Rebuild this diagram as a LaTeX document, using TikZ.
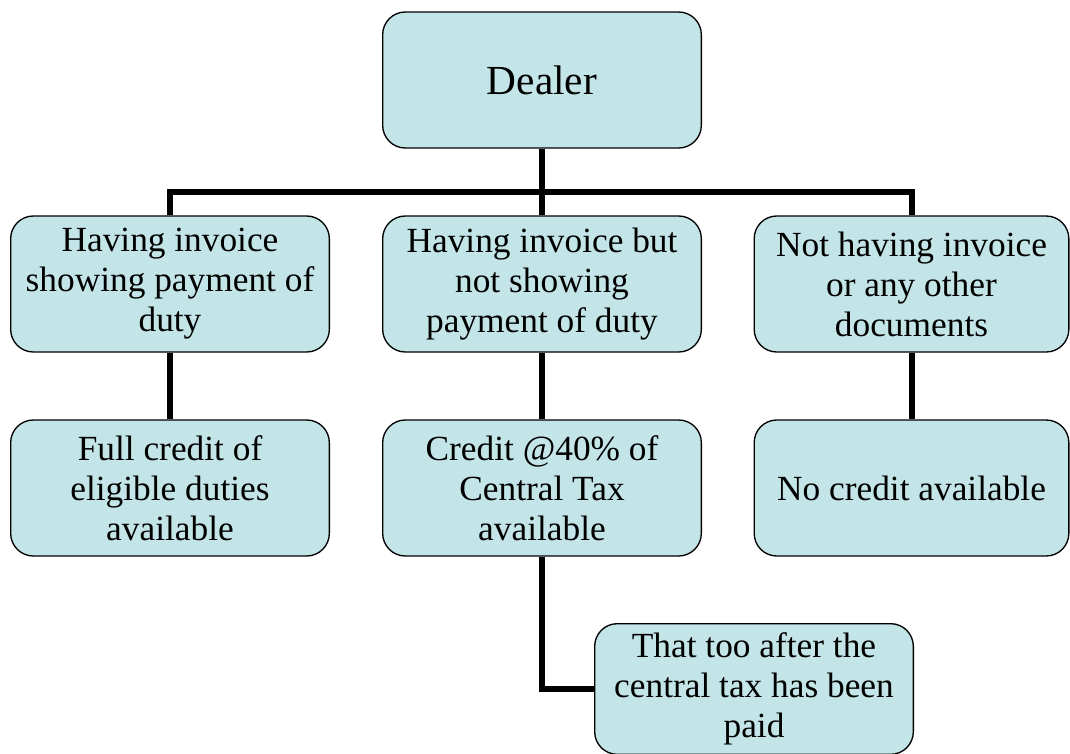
\documentclass[tikz,border=0pt]{standalone}
\usepackage{fontspec}
\setmainfont{Liberation Serif}
\definecolor{boxfill}{RGB}{196,229,232}
\begin{document}
\begin{tikzpicture}[x=0.75pt,y=-0.75pt,
  box/.style={draw=black, line width=1pt, fill=boxfill, rounded corners=17pt,
    minimum width=239pt, minimum height=102pt, align=center, inner sep=2pt,
    font=\fontsize{26.5}{30}\selectfont},
  conn/.style={draw=black, line width=4.5pt}]
\useasboundingbox (0,0) rectangle (1070,753);
\node[box, font=\fontsize{31}{36}\selectfont] (dealer) at (542,80) {Dealer};
\node[box] (a1) at (170,284) {Having invoice\\showing payment of\\duty};
\node[box] (a2) at (542,284) {Having invoice but\\not showing\\payment of duty};
\node[box, minimum width=236pt] (a3) at (911.5,284) {Not having invoice\\or any other\\documents};
\node[box] (b1) at (170,488) {Full credit of\\eligible duties\\available};
\node[box] (b2) at (542,488) {Credit @40\% of\\Central Tax\\available};
\node[box, minimum width=236pt] (b3) at (911.5,488) {No credit available};
\node[box, minimum height=98pt] (c2) at (754,689) {That too after the\\central tax has been\\paid};
\coordinate (bus) at (542,192);
\draw[conn] (dealer.south) -- (a2.north);
\draw[conn] (a1.north) -- (a1.north |- bus) -- (a3.north |- bus) -- (a3.north);
\draw[conn] (a1.south) -- (b1.north);
\draw[conn] (a2.south) -- (b2.north);
\draw[conn] (a3.south) -- (b3.north);
\draw[conn] (b2.south) |- (c2.west);
\end{tikzpicture}
\end{document}
